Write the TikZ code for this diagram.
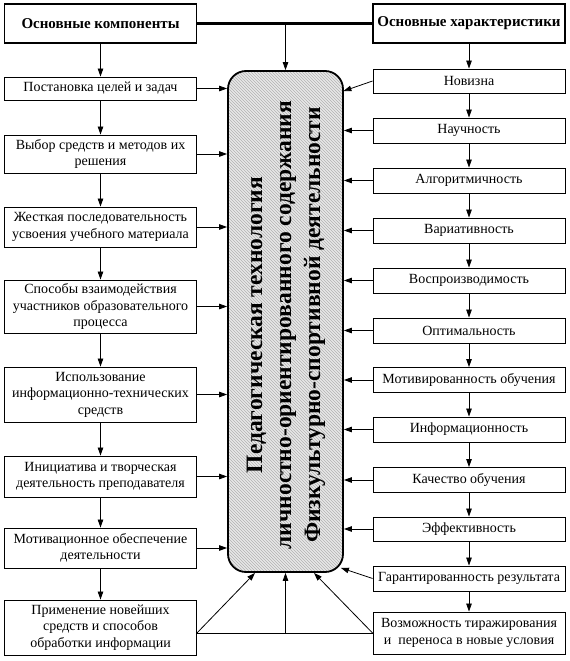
\documentclass[tikz,border=0pt]{standalone}
\usepackage{fontspec}
\setmainfont{Liberation Serif}
\usetikzlibrary{arrows.meta,patterns,calc}
\begin{document}
\begin{tikzpicture}[x=1pt,y=-1pt,
  box/.style={draw,line width=0.9pt,rectangle,inner sep=0pt,align=center,
    minimum width=192pt,font=\fontsize{14}{16.5}\selectfont},
  head/.style={draw,line width=1.8pt,rectangle,inner sep=0pt,align=center,
    minimum width=192pt,minimum height=39pt,font=\fontsize{15}{18}\bfseries\selectfont},
  arr/.style={-{Triangle[length=8pt,width=5.5pt]},line width=0.8pt},
]
\useasboundingbox (0,0) rectangle (570,661);
% central block
\node[draw,line width=1.8pt,rounded corners=18pt,minimum width=115pt,minimum height=501pt,
  inner sep=0pt,preaction={fill=gray!18},pattern=north west lines,pattern color=gray!60]
  (c) at (285.5,321.5) {};
\node[rotate=90,align=center,font=\fontsize{23.5}{29}\bfseries\selectfont] (ct) at (286,325)
  {Педагогическая технология\\личностно-ориентированного содержания\\Физкультурно-спортивной деятельности};
% headings
\node[head] (hl) at (100.5,23.5) {Основные компоненты};
\node[head] (hr) at (469,23.5) {Основные характеристики};
% left column
\node[box,minimum height=23pt] (l1) at (100.5,88.5) {Постановка целей и задач};
\node[box,minimum height=38pt] (l2) at (100.5,154) {Выбор средств и методов их\\решения};
\node[box,minimum height=40pt] (l3) at (100.5,227) {Жесткая последовательность\\усвоения учебного материала};
\node[box,minimum height=53pt] (l4) at (100.5,306.5) {Способы взаимодействия\\участников образовательного\\процесса};
\node[box,minimum height=55pt] (l5) at (100.5,394.5) {Использование\\информационно-технических\\средств};
\node[box,minimum height=41pt] (l6) at (100.5,476.5) {Инициатива и творческая\\деятельность преподавателя};
\node[box,minimum height=40pt] (l7) at (100.5,548) {Мотивационное обеспечение\\деятельности};
\node[box,minimum height=55pt] (l8) at (100.5,627.5) {Применение новейших\\средств и способов\\обработки информации};
% right column
\node[box,minimum height=24pt] (r1) at (469,81) {Новизна};
\node[box,minimum height=25pt] (r2) at (469,130.5) {Научность};
\node[box,minimum height=25pt] (r3) at (469,180.5) {Алгоритмичность};
\node[box,minimum height=25pt] (r4) at (469,230.5) {Вариативность};
\node[box,minimum height=25pt] (r5) at (469,280.5) {Воспроизводимость};
\node[box,minimum height=25pt] (r6) at (469,330.5) {Оптимальность};
\node[box,minimum height=25pt] (r7) at (469,380) {Мотивированность обучения};
\node[box,minimum height=25pt] (r8) at (469,429.5) {Информационность};
\node[box,minimum height=25pt] (r9) at (469,480) {Качество обучения};
\node[box,minimum height=24pt] (r10) at (469,529) {Эффективность};
\node[box,minimum height=25pt] (r11) at (469,578.5) {Гарантированность результата};
\node[box,minimum height=42pt] (r12) at (469,633) {Возможность тиражирования\\и~~переноса в новые условия};
% top connections
\draw[line width=2.6pt] (hl.east) -- (hr.west);
\draw[arr] (c.north |- hl.east) -- (c.north);
\draw[arr] (hl) -- (l1);
\draw[arr] (hr) -- (r1);
% left chain
\foreach \a/\b in {l1/l2,l2/l3,l3/l4,l4/l5,l5/l6,l6/l7,l7/l8}
  \draw[arr] (\a) -- (\b);
\foreach \a in {l1,l2,l3,l4,l5,l6,l7}
  \draw[arr] (\a.east) -- (\a.east -| c.west);
% right chain
\foreach \a/\b in {r1/r2,r2/r3,r3/r4,r4/r5,r5/r6,r6/r7,r7/r8,r8/r9,r9/r10,r10/r11,r11/r12}
  \draw[arr] (\a) -- (\b);
\foreach \a in {r2,r3,r4,r5,r6,r7,r8,r9,r10}
  \draw[arr] (\a.west) -- (\a.west -| c.east);
\coordinate (cn) at ($(c.north east)+(-0.5,21)$);
\coordinate (cg) at ($(c.south east)+(-3,-5)$);
\draw[arr] (r1.west) -- (cn);
\draw[arr] (r11.west) -- (cg);
% bottom connections
\coordinate (bl) at (l8.east |- r12.west);
\coordinate (bm) at (c.south |- r12.west);
\draw[line width=0.8pt] (bl) -- (r12.west);
\draw[arr] (bl) -- ($(c.south)+(-30.5,0)$);
\draw[arr] (bm) -- (c.south);
\draw[arr] (r12.west) -- ($(c.south)+(28.5,0)$);
\end{tikzpicture}
\end{document}
